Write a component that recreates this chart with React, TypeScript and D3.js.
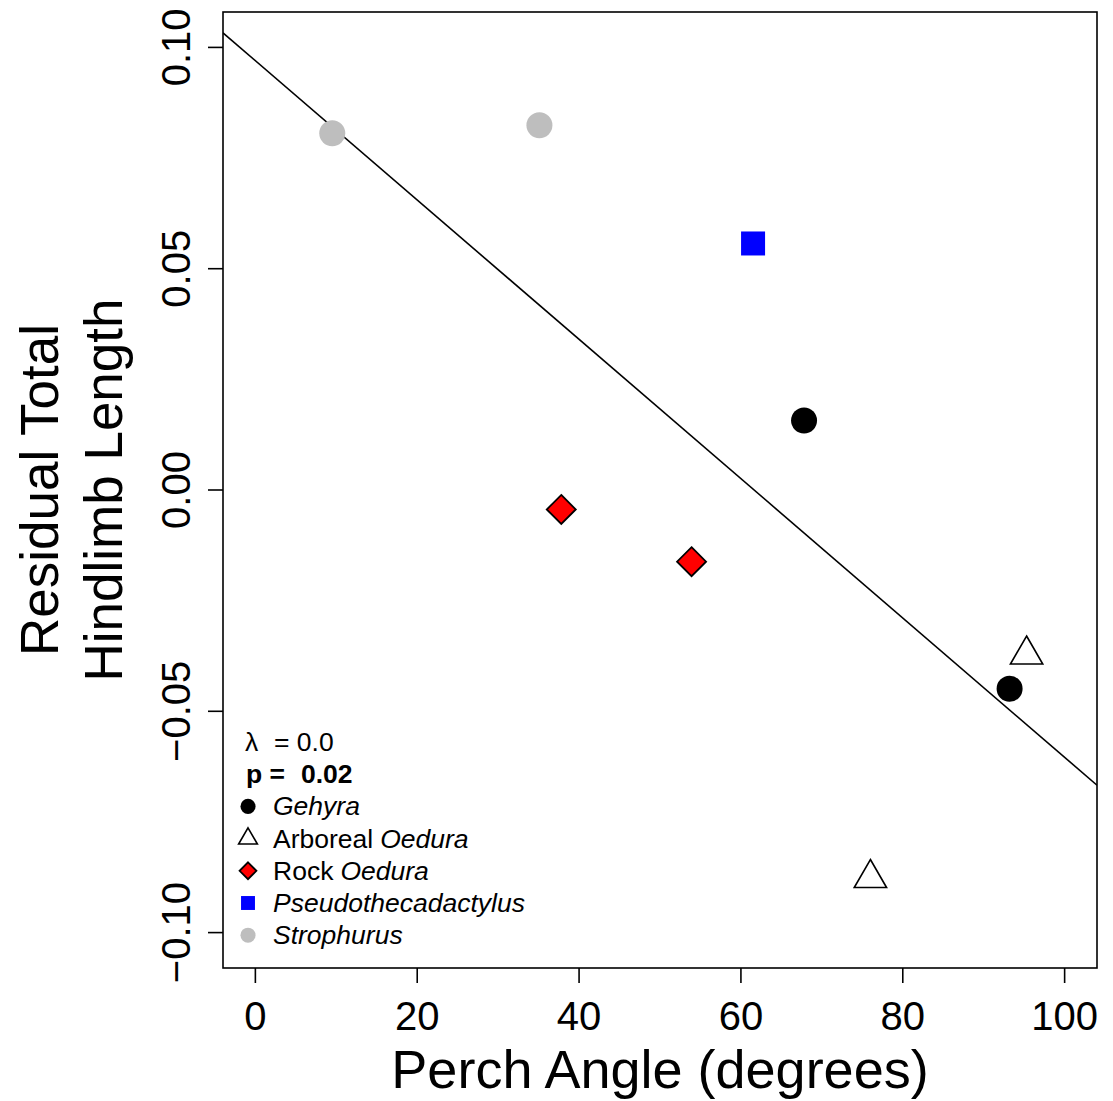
import React from "react";
import * as d3 from "d3";

// ---- data ----
const groups = ["Gehyra", "Arboreal Oedura", "Rock Oedura", "Pseudothecadactylus", "Strophurus"];
const perchAngle = [67.8, 93.2, 95.3, 76.0, 37.8, 53.9, 61.5, 9.5, 35.1];
const residualHindlimb = [0.0157, -0.0449, -0.0372, -0.0877, -0.0044, -0.0162, 0.0557, 0.0806, 0.0824];
const pointGroup = [0, 0, 1, 1, 2, 2, 3, 4, 4];
const xTicks = [0, 20, 40, 60, 80, 100];
const yTicks = [-0.1, -0.05, 0, 0.05, 0.1];
const fitIntercept = 0.097;
const fitSlope = -0.001574;
const lambdaText = "0.0";
const pText = "0.02";

const W = 1113;
const H = 1101;
const M = { left: 223, right: 1097, top: 12, bottom: 968 };
const FONT = "'Liberation Sans', Arial, Helvetica, sans-serif";

const groupStyle = [
  { shape: "circle", fill: "#000000", stroke: "none" },
  { shape: "triangle", fill: "none", stroke: "#000000" },
  { shape: "diamond", fill: "#ff0000", stroke: "#000000" },
  { shape: "square", fill: "#0000ff", stroke: "none" },
  { shape: "circle", fill: "#bebebe", stroke: "none" },
];

function Marker({ cx, cy, g, s }: { cx: number; cy: number; g: number; s: number }) {
  const st = groupStyle[g];
  if (st.shape === "circle") {
    return <circle cx={cx} cy={cy} r={13 * s} fill={st.fill} />;
  }
  if (st.shape === "triangle") {
    const k = 12 * s;
    const pts = [
      [cx, cy - 1.555 * k],
      [cx + 1.347 * k, cy + 0.778 * k],
      [cx - 1.347 * k, cy + 0.778 * k],
    ];
    return <polygon points={pts.map((p) => p.join(",")).join(" ")} fill="none" stroke="#000" strokeWidth={1.6} />;
  }
  if (st.shape === "diamond") {
    const h = 14.5 * s;
    const pts = [
      [cx, cy - h],
      [cx + h, cy],
      [cx, cy + h],
      [cx - h, cy],
    ];
    return <polygon points={pts.map((p) => p.join(",")).join(" ")} fill={st.fill} stroke="#000" strokeWidth={1.8} />;
  }
  const a = 24 * s;
  return <rect x={cx - a / 2} y={cy - a / 2} width={a} height={a} fill={st.fill} />;
}

export default function App() {
  const x = d3.scaleLinear().domain([-4, 104]).range([M.left, M.right]);
  const y = d3.scaleLinear().domain([-0.108, 0.108]).range([M.bottom, M.top]);
  const fitLine = d3
    .line<number>()
    .x((d) => x(d))
    .y((d) => y(fitIntercept + fitSlope * d));
  const fmt = (v: number) => (v < 0 ? "\u2212" : "") + Math.abs(v).toFixed(2);

  const legX = 248;
  const legTextX = 273;
  const legY0 = 742;
  const legStep = 32.2;

  return (
    <svg
      width={W}
      height={H}
      style={{ position: "absolute", left: 0, top: 0, background: "#fff" }}
      fontFamily={FONT}
    >
      <rect x={0} y={0} width={W} height={H} fill="#fff" />
      <defs>
        <clipPath id="plotclip">
          <rect x={M.left} y={M.top} width={M.right - M.left} height={M.bottom - M.top} />
        </clipPath>
      </defs>

      {/* regression line */}
      <path d={fitLine(x.domain()) || ""} stroke="#000" strokeWidth={1.6} fill="none" clipPath="url(#plotclip)" />

      {/* points */}
      {perchAngle.map((v, i) => (
        <Marker key={i} cx={x(v)} cy={y(residualHindlimb[i])} g={pointGroup[i]} s={1} />
      ))}

      {/* box */}
      <rect x={M.left} y={M.top} width={M.right - M.left} height={M.bottom - M.top} fill="none" stroke="#000" strokeWidth={1.6} />

      {/* x axis */}
      {xTicks.map((t) => (
        <g key={t}>
          <line x1={x(t)} x2={x(t)} y1={M.bottom} y2={M.bottom + 15} stroke="#000" strokeWidth={1.6} />
          <text x={x(t)} y={1030} fontSize={40} textAnchor="middle">
            {t}
          </text>
        </g>
      ))}
      <text x={(M.left + M.right) / 2} y={1088} fontSize={54} textAnchor="middle">
        Perch Angle (degrees)
      </text>

      {/* y axis */}
      {yTicks.map((t) => (
        <g key={t}>
          <line x1={M.left - 15} x2={M.left} y1={y(t)} y2={y(t)} stroke="#000" strokeWidth={1.6} />
          <text transform={`translate(190,${y(t)}) rotate(-90)`} fontSize={40} textAnchor="middle">
            {fmt(t)}
          </text>
        </g>
      ))}
      <text transform={`translate(58,${(M.top + M.bottom) / 2}) rotate(-90)`} fontSize={53} textAnchor="middle">
        Residual Total
      </text>
      <text transform={`translate(122,${(M.top + M.bottom) / 2}) rotate(-90)`} fontSize={53} textAnchor="middle">
        Hindlimb Length
      </text>

      {/* legend */}
      <g fontSize={26.5}>
        <text x={245} y={legY0} dominantBaseline="central">
          {"\u03bb"}
        </text>
        <text x={274} y={legY0} dominantBaseline="central">
          {"= " + lambdaText}
        </text>
        <text x={246} y={legY0 + legStep} dominantBaseline="central" fontWeight="bold">
          p =
        </text>
        <text x={301} y={legY0 + legStep} dominantBaseline="central" fontWeight="bold">
          {pText}
        </text>
        {groups.map((gName, gi) => {
          const cy = legY0 + legStep * (gi + 2);
          const words = gName.split(" ");
          const italicLast = gi === 1 || gi === 2;
          return (
            <g key={gName}>
              <Marker cx={legX} cy={cy} g={gi} s={0.58} />
              <text x={legTextX} y={cy} dominantBaseline="central">
                {italicLast ? (
                  <>
                    <tspan>{words[0]}</tspan>
                    <tspan dx={7} fontStyle="italic">{words.slice(1).join(" ")}</tspan>
                  </>
                ) : (
                  <tspan fontStyle="italic">{gName}</tspan>
                )}
              </text>
            </g>
          );
        })}
      </g>
    </svg>
  );
}
